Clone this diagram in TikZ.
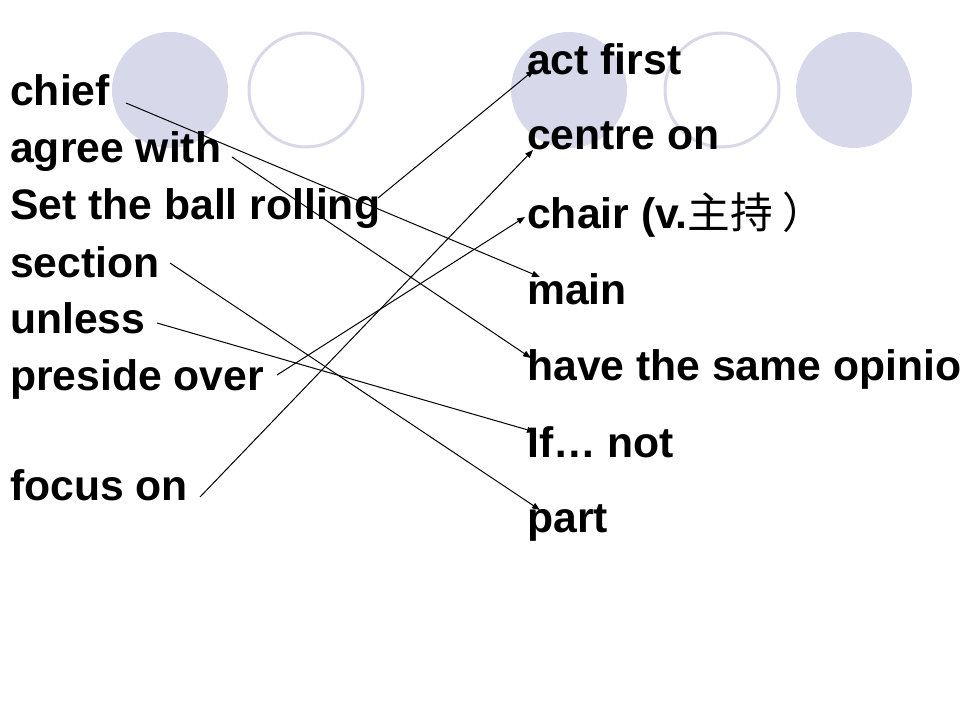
\documentclass[tikz,border=0pt]{standalone}
\usepackage{fontspec}
\setmainfont{Liberation Sans}
\newfontfamily\cjk{Noto Sans CJK SC}
\usetikzlibrary{arrows.meta}
\definecolor{circ}{HTML}{D8D8EB}
\begin{document}
\begin{tikzpicture}[x=0.75pt,y=-0.75pt,
  lbl/.style={anchor=base west,inner sep=0pt,font=\fontsize{32pt}{36pt}\selectfont\bfseries},
  dot/.style={fill=circ,draw=none},
  ring/.style={draw=circ,line width=2.25pt},
  link/.style={line width=0.75pt,-{Triangle[length=6pt,width=4.5pt]}}]
\useasboundingbox[fill=white] (0,0) rectangle (960,720);
% decorative circles
\fill[dot] (170,90) circle[radius=58];
\draw[ring] (306,90) circle[radius=57];
\fill[dot] (569,90) circle[radius=58];
\draw[ring] (722,90) circle[radius=57];
\fill[dot] (854,90) circle[radius=58];
% left column
\node[lbl] (chief) at (10,106) {chief};
\node[lbl] (agree) at (10,163) {agree with};
\node[lbl] (setball) at (10,220) {Set the ball rolling};
\node[lbl] (section) at (10,277) {section};
\node[lbl] (unless) at (10,334) {unless};
\node[lbl] (preside) at (10,390) {preside over};
\node[lbl] (focus) at (10,500) {focus on};
% right column
\node[lbl] (act) at (527,75) {act first};
\node[lbl] (centre) at (527,150) {centre on};
\node[lbl] (chair) at (527,229) {chair (v.{\mdseries\cjk 主持\hspace{0.22em}）}};
\node[lbl] (main) at (527,305) {main};
\node[lbl] (same) at (527,380) {have the same opinio};
\node[lbl] (ifnot) at (527,457) {If… not};
\node[lbl] (part) at (527,532) {part};
% connector end points
\coordinate (chiefR) at (126,103);
\coordinate (agreeR) at (232,157);
\coordinate (setR) at (378,198);
\coordinate (sectionR) at (170,263);
\coordinate (unlessR) at (157,323);
\coordinate (presideR) at (277,375);
\coordinate (focusR) at (200,497);
\coordinate (actL) at (534,70);
\coordinate (centreL) at (533,150);
\coordinate (chairL) at (525,217);
\coordinate (mainL) at (540,277);
\coordinate (sameL) at (531,358);
\coordinate (ifL) at (535,432);
\coordinate (partL) at (540,510);
% connectors
\draw[link] (chiefR) -- (mainL);
\draw[link] (agreeR) -- (sameL);
\draw[link] (setR) -- (actL);
\draw[link] (sectionR) -- (partL);
\draw[link] (unlessR) -- (ifL);
\draw[link] (presideR) -- (chairL);
\draw[link] (focusR) -- (centreL);
\end{tikzpicture}
\end{document}
